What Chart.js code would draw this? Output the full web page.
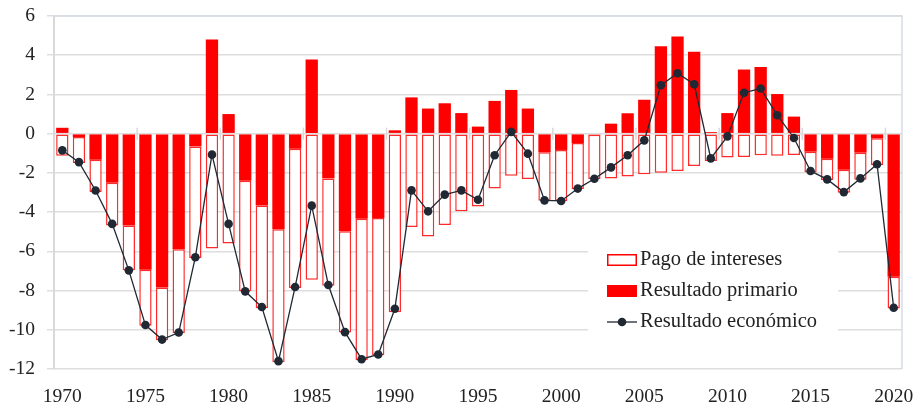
<!DOCTYPE html>
<html>
<head>
<meta charset="utf-8">
<script src="https://cdn.jsdelivr.net/npm/chart.js@4.4.0/dist/chart.umd.min.js"></script>
<style>
  html, body { margin: 0; padding: 0; background: #fff; }
  #wrap { width: 919px; height: 405px; position: relative; }
</style>
</head>
<body>
<div id="wrap"><canvas id="chart"></canvas></div>
<script>
// Años
const years = [
  1970, 1971, 1972, 1973, 1974, 1975, 1976, 1977, 1978, 1979,
  1980, 1981, 1982, 1983, 1984, 1985, 1986, 1987, 1988, 1989,
  1990, 1991, 1992, 1993, 1994, 1995, 1996, 1997, 1998, 1999,
  2000, 2001, 2002, 2003, 2004, 2005, 2006, 2007, 2008, 2009,
  2010, 2011, 2012, 2013, 2014, 2015, 2016, 2017, 2018, 2019,
  2020
];

// Resultado primario (% PIB)
const primario = [
  0.3, -0.17, -1.33, -2.5, -4.68, -6.94, -7.84, -5.9, -0.65, 4.8,
  1.0, -2.4, -3.66, -4.88, -0.77, 3.78, -2.28, -4.98, -4.34, -4.3,
  0.17, 1.85, 1.28, 1.55, 1.05, 0.36, 1.67, 2.23, 1.28, -0.95,
  -0.83, -0.48, -0.05, 0.51, 1.04, 1.73, 4.46, 4.95, 4.18, 0.08,
  1.05, 3.27, 3.4, 2.02, 0.87, -0.92, -1.28, -1.84, -0.97, -0.24,
  -7.3
];

// Pago de intereses (% PIB)
const intereses = [
  -1.12, -1.33, -1.65, -2.18, -2.29, -2.86, -2.7, -4.27, -5.69, -5.85,
  -5.6, -5.64, -5.24, -6.77, -7.1, -7.45, -5.48, -5.16, -7.22, -7.0,
  -9.1, -4.76, -5.24, -4.66, -3.96, -3.72, -2.8, -2.14, -2.31, -2.47,
  -2.6, -2.34, -2.26, -2.28, -2.18, -2.07, -1.99, -1.9, -1.65, -1.39,
  -1.22, -1.19, -1.1, -1.12, -1.09, -1.05, -1.08, -1.17, -1.38, -1.36,
  -1.61
];

// Resultado económico (% PIB)
const economico = [
  -0.85, -1.45, -2.9, -4.6, -6.97, -9.76, -10.5, -10.14, -6.3, -1.07,
  -4.6, -8.04, -8.84, -11.6, -7.82, -3.67, -7.72, -10.12, -11.5, -11.26,
  -8.93, -2.89, -3.96, -3.11, -2.89, -3.37, -1.1, 0.09, -1.02, -3.4,
  -3.43, -2.8, -2.3, -1.72, -1.1, -0.34, 2.47, 3.08, 2.52, -1.26,
  -0.14, 2.09, 2.3, 0.94, -0.22, -1.9, -2.33, -2.98, -2.28, -1.56,
  -8.88
];

const yTicks = [-12, -10, -8, -6, -4, -2, 0, 2, 4, 6];

const FONT = '"Liberation Serif", "Times New Roman", serif';
const RED = '#ff0000';
const LINE = '#1f2833';

// marcas del eje de categorías sobre la línea del cero + marco del área
const frameTicks = {
  id: 'frameTicks',
  beforeDatasetsDraw(chart) {
    const { ctx, chartArea: a, scales: { y } } = chart;
    const y0 = y.getPixelForValue(0);
    const step = (a.right - a.left) / years.length;
    ctx.save();
    ctx.strokeStyle = '#d9d9d9';
    ctx.lineWidth = 1.5;
    for (let i = 5; i < years.length; i += 5) {
      const px = a.left + i * step;
      ctx.beginPath();
      ctx.moveTo(px, y0 - 6);
      ctx.lineTo(px, y0 + 6);
      ctx.stroke();
    }
    ctx.strokeStyle = '#d6dce5';
    ctx.beginPath();
    ctx.moveTo(a.left, a.top);
    ctx.lineTo(a.right, a.top);
    ctx.lineTo(a.right, a.bottom);
    ctx.stroke();
    ctx.restore();
  }
};

// leyenda dentro del área del gráfico
const boxLegend = {
  id: 'boxLegend',
  afterDatasetsDraw(chart) {
    const { ctx } = chart;
    const x0 = 607, rows = [260, 291, 322];
    ctx.save();
    ctx.fillStyle = '#fff';
    ctx.fillRect(588, 240, 250, 105);

    ctx.strokeStyle = RED;
    ctx.lineWidth = 1.5;
    ctx.strokeRect(x0 + 0.75, rows[0] - 5.25, 28.5, 10.5);

    ctx.fillStyle = RED;
    ctx.fillRect(x0, rows[1] - 6, 30, 12);

    ctx.strokeStyle = LINE;
    ctx.lineWidth = 1.3;
    ctx.beginPath();
    ctx.moveTo(x0, rows[2]);
    ctx.lineTo(x0 + 30, rows[2]);
    ctx.stroke();
    ctx.fillStyle = LINE;
    ctx.beginPath();
    ctx.arc(x0 + 15, rows[2], 4.3, 0, Math.PI * 2);
    ctx.fill();

    ctx.fillStyle = '#222';
    ctx.font = '20.5px ' + FONT;
    ctx.textBaseline = 'middle';
    ctx.textAlign = 'left';
    ctx.fillText('Pago de intereses', x0 + 33, rows[0]);
    ctx.fillText('Resultado primario', x0 + 33, rows[1]);
    ctx.fillText('Resultado económico', x0 + 33, rows[2]);
    ctx.restore();
  }
};

const ctx = document.getElementById('chart').getContext('2d');
new Chart(ctx, {
  data: {
    labels: years.map(String),
    datasets: [
      {
        type: 'line',
        label: 'Resultado económico',
        data: economico,
        stack: 'econ',
        borderColor: LINE,
        backgroundColor: LINE,
        borderWidth: 1.3,
        pointRadius: 4.3,
        pointBackgroundColor: LINE,
        pointBorderWidth: 0,
        tension: 0,
      },
      {
        type: 'bar',
        label: 'Resultado primario',
        data: primario,
        stack: 'fiscal',
        backgroundColor: RED,
        borderWidth: 0,
        categoryPercentage: 1,
        barPercentage: 0.74,
      },
      {
        type: 'bar',
        label: 'Pago de intereses',
        data: intereses,
        stack: 'fiscal',
        backgroundColor: '#ffffff',
        borderColor: '#ff2a2a',
        borderWidth: 1.5,
        borderSkipped: false,
        categoryPercentage: 1,
        barPercentage: 0.74,
      },
    ],
  },
  options: {
    responsive: true,
    maintainAspectRatio: false,
    animation: false,
    layout: { padding: { top: 16, right: 17, left: 0, bottom: 0 } },
    plugins: {
      legend: { display: false },
      tooltip: { enabled: false },
    },
    scales: {
      x: {
        stacked: true,
        grid: { display: false, drawTicks: false },
        border: { display: false },
        ticks: {
          autoSkip: false,
          maxRotation: 0,
          padding: 16,
          color: '#222',
          font: { family: FONT, size: 19.5 },
          callback: (v, i) => (years[i] % 5 === 0 ? String(years[i]) : ''),
        },
        afterFit: (s) => { s.height = 36; s.paddingLeft = 0; s.paddingRight = 0; },
      },
      y: {
        stacked: true,
        min: yTicks[0],
        max: yTicks[yTicks.length - 1],
        afterBuildTicks: (s) => { s.ticks = yTicks.map((v) => ({ value: v })); },
        grid: { color: '#dedede', lineWidth: 1.5, tickLength: 7 },
        border: { color: '#d9d9d9', width: 2 },
        ticks: {
          padding: 12,
          color: '#222',
          font: { family: FONT, size: 19.5 },
        },
        afterFit: (s) => { s.width = 54; s.paddingTop = 0; s.paddingBottom = 0; },
      },
    },
  },
  plugins: [frameTicks, boxLegend],
});
</script>
</body>
</html>
